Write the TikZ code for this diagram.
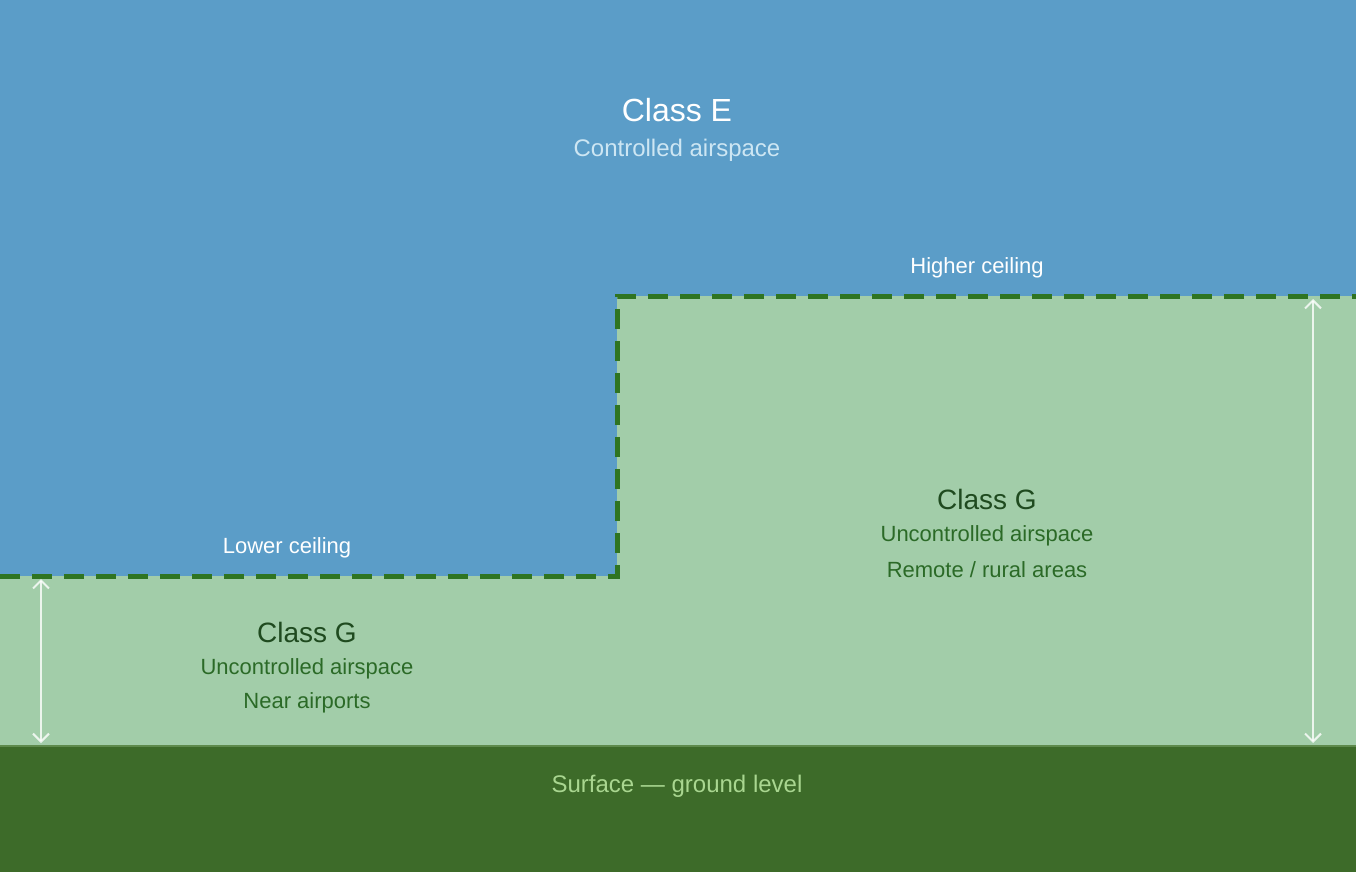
\documentclass[tikz,border=0pt]{standalone}
\usepackage{fontspec}
\setmainfont{Liberation Sans}
\usetikzlibrary{arrows.meta}
\definecolor{skyblue}{HTML}{5B9DC8}
\definecolor{lightgreen}{HTML}{A2CDA9}
\definecolor{ground}{HTML}{3D6B29}
\definecolor{groundedge}{HTML}{5E8A4C}
\definecolor{dashgreen}{HTML}{2F7421}
\definecolor{darktitle}{HTML}{1F4A1F}
\definecolor{darksub}{HTML}{2B6A27}
\definecolor{lightsub}{HTML}{CDE6F3}
\definecolor{surftext}{HTML}{A9D690}
\tikzset{
  lbl/.style={yshift=-2.5pt},
  titleE/.style={lbl,text=white,font=\fontsize{32}{38}\selectfont},
  subE/.style={lbl,text=lightsub,font=\fontsize{24}{28}\selectfont},
  ceil/.style={lbl,text=white,font=\fontsize{22}{26}\selectfont},
  titleG/.style={lbl,text=darktitle,font=\fontsize{28}{33}\selectfont},
  subG/.style={lbl,text=darksub,font=\fontsize{22}{26}\selectfont},
  surf/.style={lbl,text=surftext,font=\fontsize{24}{28}\selectfont},
  ceilline/.style={draw=dashgreen,line width=5pt,dash pattern=on 20pt off 12pt},
  measure/.style={draw=white,draw opacity=0.8,line width=2pt,{Straight Barb[length=8pt,width=16pt]}-{Straight Barb[length=8pt,width=16pt]}}
}
\begin{document}
\begin{tikzpicture}[x=1pt,y=-1pt]
\useasboundingbox (0,0) rectangle (1356,872);
\fill[skyblue] (0,0) rectangle (1356,872);
\fill[lightgreen] (0,576) -- (617,576) -- (617,296) -- (1356,296) -- (1356,746) -- (0,746) -- cycle;
\fill[ground] (0,745) rectangle (1356,872);
\draw[groundedge,line width=2pt] (0,746) -- (1356,746);
\draw[ceilline] (0,576) -- (617,576) -- (617,296) -- (1356,296);
\coordinate (la) at (41,579);
\coordinate (lb) at (41,743);
\coordinate (ra) at (1313,299);
\coordinate (rb) at (1313,743);
\draw[measure] (la) -- (lb);
\draw[measure] (ra) -- (rb);
\node[titleE] (ce) at (677,108) {Class E};
\node[subE] (cea) at (677,148) {Controlled airspace};
\node[ceil] (hc) at (977,265) {Higher ceiling};
\node[ceil] (lc) at (287,545) {Lower ceiling};
\node[titleG] (g1) at (307,630) {Class G};
\node[subG] (g1a) at (307,666) {Uncontrolled airspace};
\node[subG] (g1b) at (307,700) {Near airports};
\node[titleG] (g2) at (987,497) {Class G};
\node[subG] (g2a) at (987,533) {Uncontrolled airspace};
\node[subG] (g2b) at (987,567) {Remote / rural areas};
\node[surf] (sf) at (677,784) {Surface — ground level};
\end{tikzpicture}
\end{document}
